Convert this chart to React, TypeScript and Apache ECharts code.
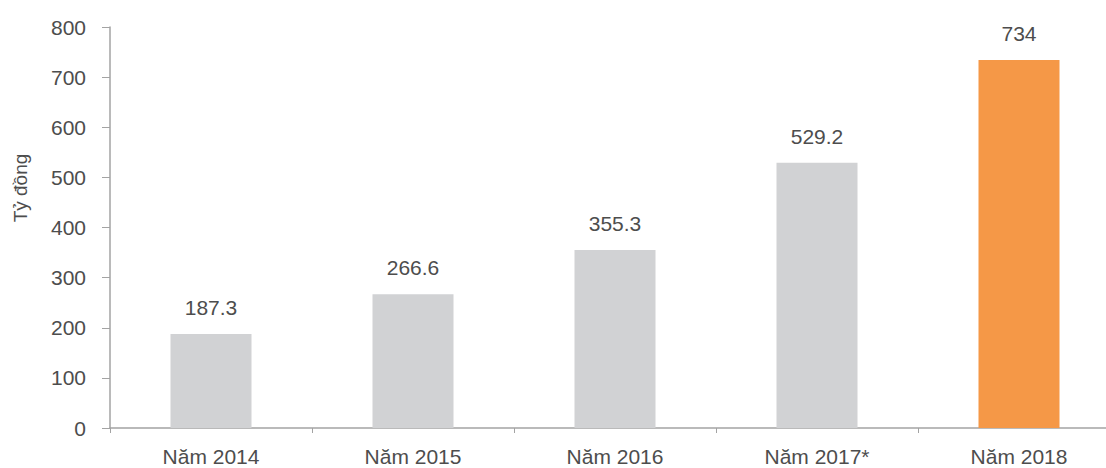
import React, { useEffect, useRef } from "react";
import * as echarts from "echarts";

const categories = ["Năm 2014", "Năm 2015", "Năm 2016", "Năm 2017*", "Năm 2018"];
const values = [187.3, 266.6, 355.3, 529.2, 734];
const valueLabels = ["187.3", "266.6", "355.3", "529.2", "734"];
const barColors = ["#d1d2d4", "#d1d2d4", "#d1d2d4", "#d1d2d4", "#f59847"];
const yAxisTitle = "Tỷ đồng";

export default function App() {
  const ref = useRef<HTMLDivElement>(null);
  useEffect(() => {
    document.body.style.margin = "0";
    document.body.style.overflow = "hidden";
    const chart = echarts.init(ref.current!, null, { renderer: "svg" });
    const font = "'Liberation Sans', Arial, Helvetica, sans-serif";
    const textColor = "#4d4d4d";
    chart.setOption({
      animation: false,
      backgroundColor: "#ffffff",
      grid: { left: 110, top: 27, right: 0, bottom: 40, containLabel: false },
      xAxis: {
        type: "category",
        data: categories,
        axisLine: { show: true, lineStyle: { color: "#a3a3a3", width: 1.5 } },
        axisTick: { show: true, alignWithLabel: false, length: 5, lineStyle: { color: "#a3a3a3" } },
        axisLabel: { color: textColor, fontSize: 21, fontFamily: font, margin: 18 },
        splitLine: { show: false },
      },
      yAxis: {
        type: "value",
        min: 0,
        max: 800,
        interval: 100,
        axisLine: { show: true, lineStyle: { color: "#a3a3a3", width: 1.5 } },
        axisTick: { show: true, length: 8, lineStyle: { color: "#a3a3a3" } },
        axisLabel: { color: textColor, fontSize: 21, fontFamily: font, margin: 24 },
        splitLine: { show: false },
      },
      graphic: [
        {
          type: "text",
          x: 20,
          y: 188,
          rotation: Math.PI / 2,
          style: {
            text: yAxisTitle,
            fill: textColor,
            fontSize: 19,
            fontFamily: font,
            textAlign: "center",
            textVerticalAlign: "middle",
          },
        },
      ],
      series: [
        {
          type: "bar",
          barWidth: 81,
          data: values.map((v, i) => ({
            value: v,
            itemStyle: { color: barColors[i] },
            label: { formatter: valueLabels[i] },
          })),
          label: {
            show: true,
            position: "top",
            distance: 16,
            color: textColor,
            fontSize: 21,
            fontFamily: font,
          },
        },
      ],
    });
    return () => chart.dispose();
  }, []);
  return (
    <div style={{ width: 1106, height: 468, overflow: "hidden", position: "relative" }}>
      <div ref={ref} style={{ width: 1120, height: 468 }} />
    </div>
  );
}
